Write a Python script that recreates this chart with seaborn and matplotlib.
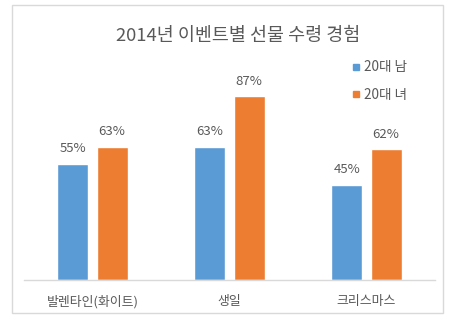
import matplotlib
matplotlib.use("Agg")
import matplotlib.pyplot as plt
import seaborn as sns
import pandas as pd
from matplotlib.patches import Rectangle
from matplotlib.lines import Line2D

categories = ["발렌타인(화이트)", "생일", "크리스마스"]
series_names = ["20대 남", "20대 녀"]
male_values = [0.55, 0.63, 0.45]
female_values = [0.63, 0.87, 0.62]
title_text = "2014년 이벤트별 선물 수령 경험"

colors = ["#5B9BD5", "#ED7D31"]
text_color = "#595959"

sns.set_theme(style="white")
plt.rcParams["font.family"] = ["Noto Sans CJK KR", "DejaVu Sans"]

df = pd.DataFrame({
    "category": categories * 2,
    "series": [series_names[0]] * 3 + [series_names[1]] * 3,
    "value": male_values + female_values,
})

W, H = 471, 331
fig = plt.figure(figsize=(W / 100, H / 100), dpi=100)
fig.patch.set_facecolor("white")

ax = fig.add_axes([24 / W, (H - 280) / H, (435 - 24) / W, (280 - 68.5) / H])
sns.barplot(data=df, x="category", y="value", hue="series", order=categories,
            hue_order=series_names, palette=colors, width=0.57, gap=0.205,
            ax=ax, legend=False, saturation=1)
ax.set_ylim(0, 1.0)
ax.set_xlim(-0.5, 2.5)
ax.set_xlabel("")
ax.set_ylabel("")
ax.set_yticks([])
for s in ["top", "left", "right"]:
    ax.spines[s].set_visible(False)
ax.spines["bottom"].set_color("#D9D9D9")
ax.spines["bottom"].set_linewidth(1.0)
ax.tick_params(axis="x", length=0, pad=11, labelsize=9.3, colors=text_color)
ax.set_facecolor("none")

for cont in ax.containers:
    ax.bar_label(cont, labels=[f"{v*100:.0f}%" for v in cont.datavalues],
                 padding=6, fontsize=9.5, color=text_color)

fig.text(238 / W, 1 - 36 / H, title_text, ha="center", va="center",
         fontsize=13.3, color=text_color)

handles = [Line2D([0], [0], marker="s", linestyle="none", markersize=4.5,
                  markerfacecolor=c, markeredgecolor=c) for c in colors]
fig.legend(handles, series_names, loc="upper left",
           bbox_to_anchor=(346 / W, 1 - 55 / H), frameon=False,
           fontsize=9.8, labelcolor=text_color, handlelength=0.6,
           handletextpad=0.3, labelspacing=1.0, borderaxespad=0)

fig.patches.append(Rectangle((12 / W, 1 - 313 / H), (443 - 12) / W, (313 - 5) / H,
                             transform=fig.transFigure, fill=False,
                             edgecolor="#D9D9D9", linewidth=1.0))

fig.savefig("out.png", dpi=100)
